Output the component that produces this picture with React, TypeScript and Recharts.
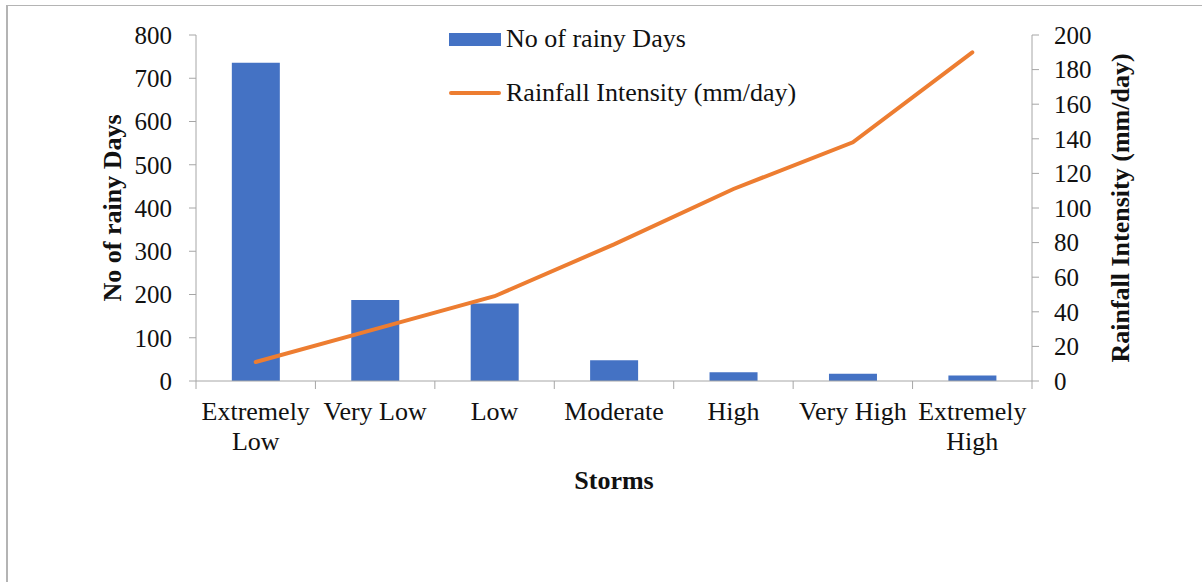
import React from 'react'
import {
  ComposedChart, Bar, Line, XAxis, YAxis, Legend
} from 'recharts'

// categories and series
const storms = ['Extremely Low', 'Very Low', 'Low', 'Moderate', 'High', 'Very High', 'Extremely High']
const rainyDays = [736, 187, 179, 48, 20, 17, 13]
const intensity = [11, 30, 49, 79, 111, 138, 190]

const daysTicks = [0, 100, 200, 300, 400, 500, 600, 700, 800]
const intensityTicks = [0, 20, 40, 60, 80, 100, 120, 140, 160, 180, 200]

const BAR_NAME = 'No of rainy Days'
const LINE_NAME = 'Rainfall Intensity (mm/day)'

const W = 1202
const H = 582
const MARGIN = { top: 35, right: 70, bottom: 0, left: 106 }
const LEFT_W = 90
const RIGHT_W = 100
const PLOT_W = W - MARGIN.left - MARGIN.right - LEFT_W - RIGHT_W
const BAND = PLOT_W / storms.length

const FONT = '"Liberation Serif", "Times New Roman", serif'
const AXIS = '#a6a6a6'
const TEXT = '#111'

const chartData = storms.map((name, i) => ({
  name,
  days: rainyDays[i],
  intensity: intensity[i]
}))

// excel wraps the long labels onto two lines
const wrapLabel = (s: string) => {
  if (s.length <= 10) return [s]
  const idx = s.indexOf(' ')
  return [s.slice(0, idx), s.slice(idx + 1)]
}

const StormTick = ({ x, y, payload, index }: any) => {
  const lines = wrapLabel(payload.value)
  return (
    <g>
      <line x1={x - BAND / 2} x2={x - BAND / 2} y1={y} y2={y + 8} stroke={AXIS} />
      {index === storms.length - 1 && (
        <line x1={x + BAND / 2} x2={x + BAND / 2} y1={y} y2={y + 8} stroke={AXIS} />
      )}
      {lines.map((l, i) => (
        <text key={i} x={x} y={y + 39 + i * 30} textAnchor="middle"
          style={{ fontFamily: FONT, fontSize: 26, fill: TEXT }}>
          {l}
        </text>
      ))}
    </g>
  )
}

const titleStyle = { fontFamily: FONT, fontSize: 26, fontWeight: 700, fill: TEXT }

const LeftTitle = ({ viewBox }: any) => {
  const cx = viewBox.x + 6
  const cy = viewBox.y + viewBox.height / 2
  return (
    <text x={cx} y={cy} transform={`rotate(-90 ${cx} ${cy})`} textAnchor="middle"
      dominantBaseline="central" style={titleStyle}>
      {BAR_NAME}
    </text>
  )
}

const RightTitle = ({ viewBox }: any) => {
  const cx = viewBox.x + viewBox.width - 12
  const cy = viewBox.y + viewBox.height / 2
  return (
    <text x={cx} y={cy} transform={`rotate(-90 ${cx} ${cy})`} textAnchor="middle"
      dominantBaseline="central" style={titleStyle}>
      {LINE_NAME}
    </text>
  )
}

const BottomTitle = ({ viewBox }: any) => (
  <text x={viewBox.x + viewBox.width / 2} y={viewBox.y + 108} textAnchor="middle" style={titleStyle}>
    Storms
  </text>
)

const LegendBox = ({ payload }: any) => (
  <div style={{ fontFamily: FONT, fontSize: 26, color: TEXT }}>
    {(payload || []).map((entry: any, i: number) => (
      <div key={i} style={{ display: 'flex', alignItems: 'center', height: 26, lineHeight: '26px', marginBottom: 28, whiteSpace: 'nowrap' }}>
        {entry.type === 'line'
          ? <span style={{ display: 'inline-block', width: 52, height: 4, borderRadius: 2, background: entry.color, marginRight: 5 }} />
          : <span style={{ display: 'inline-block', width: 52, height: 13, background: entry.color, marginRight: 5 }} />}
        <span>{entry.value}</span>
      </div>
    ))}
  </div>
)

export default function App() {
  return (
    <div style={{ position: 'fixed', left: 0, top: 0, width: W, height: H, overflow: 'hidden', background: '#fff', fontFamily: FONT }}>
      {/* chart frame, cropped on the right and bottom */}
      <div style={{ position: 'absolute', left: 6, top: 5, width: W + 20, height: H + 20, borderTop: '1px solid #b4b4b4', borderLeft: '2px solid #b4b4b4' }} />
      <ComposedChart width={W} height={H} data={chartData} margin={MARGIN} barCategoryGap="30%">
        <XAxis
          dataKey="name"
          height={H - MARGIN.top - 346}
          tickLine={false}
          tickSize={0}
          tickMargin={0}
          axisLine={{ stroke: AXIS }}
          tick={<StormTick />}
          interval={0}
          label={<BottomTitle />}
        />
        <YAxis
          yAxisId="left"
          width={LEFT_W}
          domain={[0, 800]}
          ticks={daysTicks}
          tickSize={7}
          tickMargin={17}
          axisLine={{ stroke: AXIS }}
          tickLine={{ stroke: AXIS }}
          tick={{ fontFamily: FONT, fontSize: 25, fill: TEXT }}
          label={<LeftTitle />}
        />
        <YAxis
          yAxisId="right"
          orientation="right"
          width={RIGHT_W}
          domain={[0, 200]}
          ticks={intensityTicks}
          tickSize={7}
          tickMargin={15}
          axisLine={{ stroke: AXIS }}
          tickLine={{ stroke: AXIS }}
          tick={{ fontFamily: FONT, fontSize: 25, fill: TEXT, textAnchor: 'start' }}
          label={<RightTitle />}
        />
        <Legend
          layout="vertical"
          align="center"
          verticalAlign="middle"
          wrapperStyle={{ left: 449, top: 26, width: 'auto' }}
          content={<LegendBox />}
        />
        <Bar yAxisId="left" dataKey="days" name={BAR_NAME} fill="#4472C4" isAnimationActive={false} />
        <Line yAxisId="right" type="linear" dataKey="intensity" name={LINE_NAME} stroke="#ED7D31"
          strokeWidth={4} strokeLinecap="round" dot={false} activeDot={false} isAnimationActive={false} />
      </ComposedChart>
    </div>
  )
}
